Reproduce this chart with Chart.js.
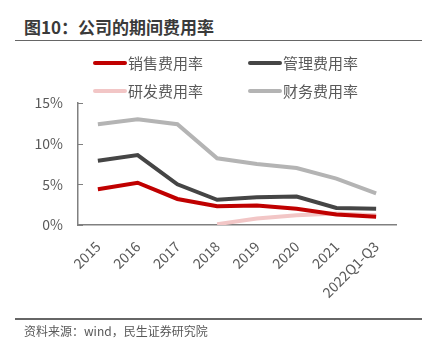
<!DOCTYPE html>
<html><head><meta charset="utf-8">
<script src="https://cdn.jsdelivr.net/npm/chart.js@4.4.0/dist/chart.umd.min.js"></script>
<style>
html,body{margin:0;padding:0;background:#fff;width:428px;height:355px;overflow:hidden;font-family:"Noto Sans CJK SC","Noto Sans",sans-serif;}
#wrap{position:relative;width:428px;height:355px;}
canvas{position:absolute;left:0;top:0;}
.title{position:absolute;left:24px;top:16px;font-size:17px;font-weight:bold;color:#3a3a3a;line-height:22px;white-space:nowrap;}
.hline{position:absolute;left:15px;width:407px;height:1.5px;background:#666;}
.src{position:absolute;left:24px;top:322px;font-size:12px;color:#595959;line-height:18px;white-space:nowrap;}
.leg{position:absolute;display:flex;align-items:center;font-size:15px;color:#595959;line-height:20px;white-space:nowrap;}
.leg span.sw{display:inline-block;width:34px;height:4px;border-radius:2px;margin-right:1px;}
</style></head>
<body><div id="wrap">
<div class="title">图10：公司的期间费用率</div>
<div class="hline" style="top:39.5px"></div>
<canvas id="c" width="428" height="355"></canvas>
<div id="legend"></div>
<div class="hline" style="top:318px"></div>
<div class="src">资料来源：wind，民生证券研究院</div>
</div>
<script>
const categories = ["2015","2016","2017","2018","2019","2020","2021","2022Q1-Q3"];
const seriesNames = ["销售费用率","管理费用率","研发费用率","财务费用率"];
const salesRate = [4.4, 5.2, 3.2, 2.3, 2.4, 2.0, 1.3, 1.0];
const adminRate = [7.9, 8.6, 5.0, 3.1, 3.4, 3.5, 2.1, 2.0];
const rdRate = [null, null, null, 0.1, 0.8, 1.2, 1.4, 1.2];
const finRate = [12.4, 13.0, 12.4, 8.2, 7.5, 7.0, 5.7, 3.9];
const yTicks = [0, 5, 10, 15];

const colors = ["#C00000", "#454545", "#F2C6C6", "#B4B4B4"];
const values = [salesRate, adminRate, rdRate, finRate];

const datasets = seriesNames.map((n, i) => ({
  label: n, data: values[i], borderColor: colors[i], backgroundColor: colors[i],
  borderWidth: 4, pointRadius: 0, tension: 0, spanGaps: false, fill: false,
  order: i === 2 ? 5 : i
}));

const legPos = [[93,53],[248,53],[93,81],[248,81]];
const legEl = document.getElementById('legend');
datasets.forEach((d, i) => {
  const div = document.createElement('div');
  div.className = 'leg';
  div.style.left = legPos[i][0] + 'px';
  div.style.top = legPos[i][1] + 'px';
  div.innerHTML = '<span class="sw" style="background:' + d.borderColor + '"></span>' + d.label;
  legEl.appendChild(div);
});

const innerTicks = {
  id: 'innerTicks',
  afterDraw(chart) {
    const y = chart.scales.y, ctx = chart.ctx;
    ctx.save();
    ctx.strokeStyle = '#808080';
    ctx.lineWidth = 1;
    yTicks.forEach(v => {
      const py = Math.round(y.getPixelForValue(v)) + 0.5;
      ctx.beginPath();
      ctx.moveTo(y.right, py);
      ctx.lineTo(y.right + 5, py);
      ctx.stroke();
    });
    ctx.restore();
  }
};

new Chart(document.getElementById('c'), {
  type: 'line',
  data: { labels: categories, datasets },
  plugins: [innerTicks],
  options: {
    responsive: false, animation: false,
    layout: { padding: { top: 103, right: 32, bottom: 40, left: 0 } },
    plugins: { legend: { display: false }, tooltip: { enabled: false } },
    scales: {
      x: {
        offset: true,
        grid: { display: false, drawTicks: false },
        border: { display: true, color: '#808080', width: 1.5 },
        ticks: {
          autoSkip: false, maxRotation: 45, minRotation: 45, padding: 13,
          color: '#595959', font: { family: '"Noto Sans CJK SC"', size: 14 }
        },
        afterFit(s) { s.height = 90; }
      },
      y: {
        min: 0, max: 15,
        afterBuildTicks(s) { s.ticks = yTicks.map(v => ({ value: v })); },
        grid: { display: false, drawTicks: false },
        border: { display: true, color: '#808080', width: 1.5 },
        ticks: {
          padding: 15, color: '#595959',
          font: { family: '"Noto Sans CJK SC"', size: 14 },
          callback: v => v + '%'
        },
        afterFit(s) { s.width = 78; }
      }
    }
  }
});
</script>
</body></html>
